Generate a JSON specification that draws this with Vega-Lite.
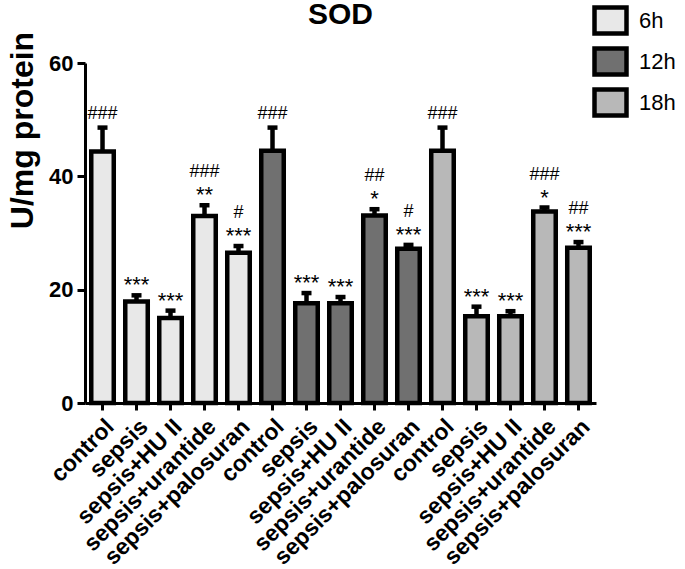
{
  "$schema": "https://vega.github.io/schema/vega-lite/v6.json",
  "autosize": {"type": "none"},
  "width": 511,
  "height": 340,
  "padding": {"left": 85, "top": 63, "right": 89, "bottom": 166},
  "background": "white",
  "title": {"text": "SOD", "fontSize": 30, "fontWeight": "bold", "font": "Liberation Sans", "color": "black", "anchor": "middle", "frame": "group", "baseline": "alphabetic", "offset": -52},
  "config": {"view": {"stroke": null}, "font": "Liberation Sans"},
  "data": {"values": [
    {"bar": "control|6h", "time": "6h", "value": 44.4, "err": 48.6, "hash": "###", "star": ""},
    {"bar": "sepsis|6h", "time": "6h", "value": 17.9, "err": 19.0, "hash": "", "star": "***"},
    {"bar": "sepsis+HU II|6h", "time": "6h", "value": 15.0, "err": 16.3, "hash": "", "star": "***"},
    {"bar": "sepsis+urantide|6h", "time": "6h", "value": 33.0, "err": 34.9, "hash": "###", "star": "**"},
    {"bar": "sepsis+palosuran|6h", "time": "6h", "value": 26.5, "err": 27.7, "hash": "#", "star": "***"},
    {"bar": "control|12h", "time": "12h", "value": 44.5, "err": 48.6, "hash": "###", "star": ""},
    {"bar": "sepsis|12h", "time": "12h", "value": 17.6, "err": 19.4, "hash": "", "star": "***"},
    {"bar": "sepsis+HU II|12h", "time": "12h", "value": 17.6, "err": 18.7, "hash": "", "star": "***"},
    {"bar": "sepsis+urantide|12h", "time": "12h", "value": 33.1, "err": 34.2, "hash": "##", "star": "*"},
    {"bar": "sepsis+palosuran|12h", "time": "12h", "value": 27.2, "err": 27.9, "hash": "#", "star": "***"},
    {"bar": "control|18h", "time": "18h", "value": 44.5, "err": 48.6, "hash": "###", "star": ""},
    {"bar": "sepsis|18h", "time": "18h", "value": 15.3, "err": 17.0, "hash": "", "star": "***"},
    {"bar": "sepsis+HU II|18h", "time": "18h", "value": 15.3, "err": 16.2, "hash": "", "star": "***"},
    {"bar": "sepsis+urantide|18h", "time": "18h", "value": 33.8, "err": 34.5, "hash": "###", "star": "*"},
    {"bar": "sepsis+palosuran|18h", "time": "18h", "value": 27.4, "err": 28.4, "hash": "##", "star": "***"}
  ]},
  "encoding": {
    "x": {
      "field": "bar", "type": "nominal", "sort": null,
      "scale": {"paddingInner": 0.338, "paddingOuter": 0.184},
      "axis": {
        "title": null,
        "labelExpr": "split(datum.value, '|')[0]",
        "labelAngle": -45,
        "labelFontSize": 23,
        "labelFontWeight": "bold",
        "labelColor": "black",
        "labelPadding": 5,
        "labelLimit": 400,
        "tickSize": 7,
        "tickWidth": 3,
        "tickColor": "black",
        "domainWidth": 3,
        "domainColor": "black"
      }
    }
  },
  "layer": [
    {
      "mark": {"type": "bar", "stroke": "black", "strokeWidth": 4.5},
      "encoding": {
        "y": {
          "field": "value", "type": "quantitative",
          "scale": {"domain": [0, 60], "nice": false},
          "axis": {
            "title": "U/mg protein",
            "titleFontSize": 32,
            "titleFontWeight": "bold",
            "titleColor": "black",
            "titleAngle": -90,
            "titleX": -53,
            "titleY": 67,
            "titleAlign": "center",
            "titleBaseline": "alphabetic",
            "values": [0, 20, 40, 60],
            "grid": false,
            "labelFontSize": 22,
            "labelFontWeight": "bold",
            "labelColor": "black",
            "labelPadding": 4,
            "tickSize": 8,
            "tickWidth": 3,
            "tickColor": "black",
            "domainWidth": 3,
            "domainColor": "black"
          }
        },
        "fill": {
          "field": "time", "type": "nominal",
          "scale": {"domain": ["6h", "12h", "18h"], "range": ["#e8e8e8", "#707070", "#b8b8b8"]},
          "legend": {
            "title": null,
            "orient": "none",
            "legendX": 507,
            "legendY": -61,
            "symbolType": "M-1,-0.8125H1V0.8125H-1Z",
            "symbolSize": 1024,
            "symbolStrokeColor": "black",
            "symbolStrokeWidth": 4.5,
            "labelFontSize": 22,
            "labelColor": "black",
            "labelOffset": 10,
            "rowPadding": -7
          }
        }
      }
    },
    {
      "mark": {"type": "rule", "stroke": "black", "strokeWidth": 4.5},
      "encoding": {
        "y": {"field": "value", "type": "quantitative"},
        "y2": {"field": "err"}
      }
    },
    {
      "mark": {"type": "tick", "color": "black", "size": 10, "thickness": 4.5, "opacity": 1},
      "encoding": {
        "y": {"field": "err", "type": "quantitative"}
      }
    },
    {
      "transform": [{"filter": "datum.star != ''"}],
      "mark": {"type": "text", "baseline": "alphabetic", "fontSize": 22, "dy": -3, "color": "black"},
      "encoding": {
        "y": {"field": "err", "type": "quantitative"},
        "text": {"field": "star"}
      }
    },
    {
      "transform": [{"filter": "datum.star != '' && datum.hash != ''"}],
      "mark": {"type": "text", "baseline": "alphabetic", "fontSize": 18, "dy": -28, "color": "black"},
      "encoding": {
        "y": {"field": "err", "type": "quantitative"},
        "text": {"field": "hash"}
      }
    },
    {
      "transform": [{"filter": "datum.star == '' && datum.hash != ''"}],
      "mark": {"type": "text", "baseline": "alphabetic", "fontSize": 18, "dy": -9, "color": "black"},
      "encoding": {
        "y": {"field": "err", "type": "quantitative"},
        "text": {"field": "hash"}
      }
    }
  ]
}
